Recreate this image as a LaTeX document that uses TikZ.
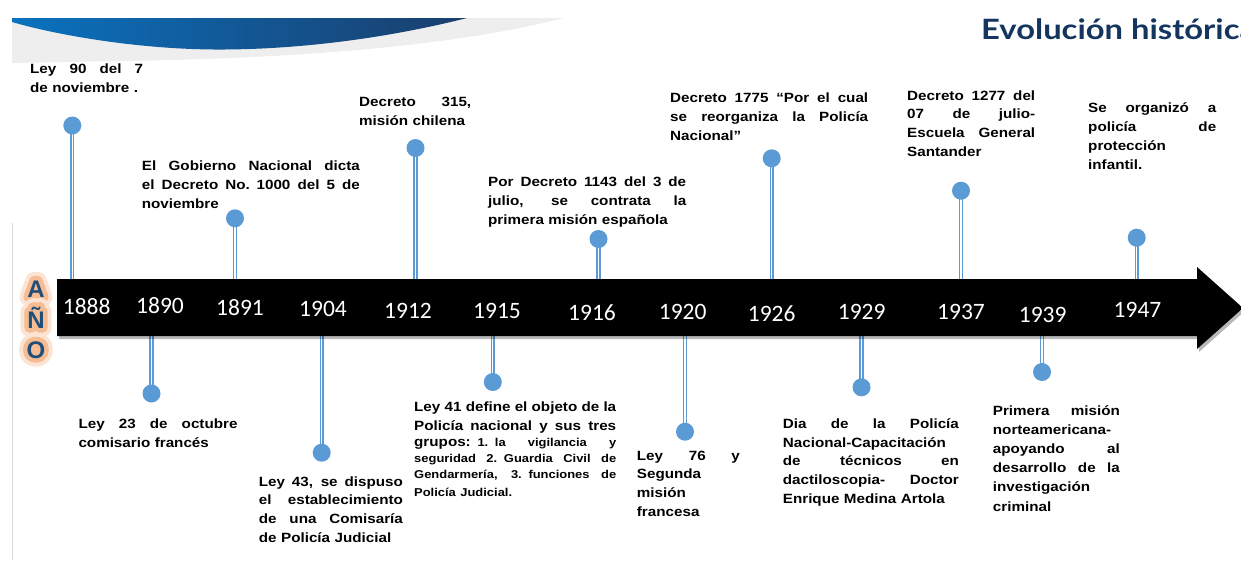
\documentclass[tikz,border=0pt]{standalone}
\usepackage{fontspec}
\setmainfont{Liberation Sans}
\newfontfamily\tf{Liberation Sans}[FakeStretch=1.135]
\newfontfamily\yf{Carlito}
\newfontfamily\ttlf{Lato}[FakeStretch=1.17]
\usetikzlibrary{calc}
\definecolor{dotblue}{HTML}{5B9BD5}
\definecolor{navy}{HTML}{14365E}
\definecolor{anoblue}{HTML}{1F4E79}
\definecolor{glowa}{HTML}{F6BC93}
\definecolor{glowb}{HTML}{FCE4D4}
\definecolor{swl}{HTML}{0A72BF}
\definecolor{swr}{HTML}{1A3E6C}
\definecolor{swgray}{HTML}{EEEEEE}
\newcommand\jl[2]{\leavevmode\hbox to #1{\spaceskip=0.28em plus 3em minus 0.05em\relax #2}}
\newcommand\sm{\fontsize{11.4}{16}\selectfont}
\newcommand\glowL[1]{\rlap{\color{glowb}\special{pdf:literal direct 1 j 1 J 17 w 2 Tr}#1\special{pdf:literal direct 0 Tr 1 w}}\rlap{\color{glowa}\special{pdf:literal direct 1 j 1 J 9 w 2 Tr}#1\special{pdf:literal direct 0 Tr 1 w}}#1}
\pgfdeclareverticalshading{arrowsh}{100bp}{color(0bp)=(black); color(80bp)=(black); color(100bp)=(black!58)}
\begin{document}
\begin{tikzpicture}[x=1pt,y=-1pt,
  txt/.style={anchor=base west, inner sep=0pt, align=left, font={\tf\bfseries\fontsize{13.4}{18.8}\selectfont}},
  yr/.style={anchor=base, inner sep=0pt, text=white, font={\yf\fontsize{23.5}{24}\selectfont}},
  dot/.style={circle, fill=dotblue, minimum size=18pt, inner sep=0pt},
  stem/.style={draw=dotblue, line width=1.4pt, double=white, double distance=1.3pt},
  ano/.style={anchor=base, inner sep=0pt, text=anoblue, font={\bfseries\fontsize{24}{26}\selectfont}}]
\useasboundingbox (0,0) rectangle (1241,560);
% header swoosh
\fill[swgray] (12,18) -- (564,18) .. controls (470,42) and (330,58) .. (120,61) -- (12,63) -- cycle;
\shade[left color=swl, right color=swr] (12,18) -- (467,18) .. controls (380,40) and (290,50) .. (214,49.5) .. controls (140,49) and (60,36) .. (12,22) -- cycle;
\draw[black!15, line width=0.8pt] (12,223) -- (12,560);
% title
\node[anchor=base west, inner sep=0pt, text=navy, font={\ttlf\bfseries\fontsize{28}{30}\selectfont}] (title) at (981,39) {Evolución histórica};
% dot coordinates
\coordinate (bartop) at (0,280);
\coordinate (barbot) at (0,335);
\coordinate (c1888) at (72.3,125.5);
\coordinate (c1891) at (235,218.3);
\coordinate (c1912) at (415.5,148);
\coordinate (c1916) at (598.5,239);
\coordinate (c1926) at (771.7,158.3);
\coordinate (c1937) at (961,190.7);
\coordinate (c1947) at (1136.7,237.7);
\coordinate (c1890) at (151.5,393.5);
\coordinate (c1904) at (321.7,452.7);
\coordinate (c1915) at (492.8,382);
\coordinate (c1920) at (685,431.7);
\coordinate (c1929) at (861.5,387.3);
\coordinate (c1939) at (1042,372);
% stems
\foreach \c in {1888,1891,1912,1916,1926,1937,1947}
  \draw[stem] (c\c) -- (c\c |- bartop);
\foreach \c in {1890,1904,1915,1920,1929,1939}
  \draw[stem] (c\c) -- (c\c |- barbot);
% dots
\foreach \c in {1888,1891,1912,1916,1926,1937,1947,1890,1904,1915,1920,1929,1939}
  \node[dot] (p\c) at (c\c) {};
% arrow
\fill[black, opacity=.28, shift={(2,3)}] (57,279) -- (1197,279) -- (1197,267) -- (1243,308) -- (1197,349) -- (1197,336) -- (57,336) -- cycle;
\shade[shading=arrowsh] (57,279) -- (1197,279) -- (1197,267) -- (1243,308) -- (1197,349) -- (1197,336) -- (57,336) -- cycle;
% years
\node[yr] (y1888) at (86.7,314) {1888};
\node[yr] (y1890) at (160,313) {1890};
\node[yr] (y1891) at (240,315) {1891};
\node[yr] (y1904) at (323,316) {1904};
\node[yr] (y1912) at (408,318) {1912};
\node[yr] (y1915) at (497,318) {1915};
\node[yr] (y1916) at (592,320) {1916};
\node[yr] (y1920) at (682.7,319) {1920};
\node[yr] (y1926) at (771.7,321) {1926};
\node[yr] (y1929) at (861.7,319) {1929};
\node[yr] (y1937) at (961,319) {1937};
\node[yr] (y1939) at (1042.7,322) {1939};
\node[yr] (y1947) at (1137.5,317) {1947};
% AÑO with glow
\node[ano] (la) at (36,297) {\glowL{A}};
\node[ano] (ln) at (36,328) {\glowL{Ñ}};
\node[ano] (lo) at (36,358) {\glowL{O}};
% upper texts
\node[txt, text width=113pt] (t1888) at (30,73.3) {\jl{113pt}{Ley 90 del 7}\\de noviembre .};
\node[txt, text width=218pt] (t1891) at (141.7,170.7) {\jl{218pt}{El Gobierno Nacional dicta}\\\jl{218pt}{el Decreto No. 1000 del 5 de}\\noviembre};
\node[txt, text width=112pt] (t1912) at (359,106.7) {\jl{112pt}{Decreto 315,}\\misión chilena};
\node[txt, text width=198pt] (t1916) at (488,186.7) {\jl{198pt}{Por Decreto 1143 del 3 de}\\\jl{198pt}{julio, se contrata la}\\primera misión española};
\node[txt, text width=198pt] (t1926) at (670,102.7) {\jl{198pt}{Decreto 1775 “Por el cual}\\\jl{198pt}{se reorganiza la Policía}\\Nacional”};
\node[txt, text width=128pt] (t1937) at (907,100) {\jl{128pt}{Decreto 1277 del}\\\jl{128pt}{07 de julio-}\\\jl{128pt}{Escuela General}\\Santander};
\node[txt, text width=128pt] (t1947) at (1088,112.7) {\jl{128pt}{Se organizó a}\\\jl{128pt}{policía de}\\protección\\infantil.};
% lower texts
\node[txt, text width=159pt] (b1890) at (78.3,428.3) {\jl{159pt}{Ley 23 de octubre}\\comisario francés};
\node[txt, text width=144pt] (b1904) at (258.7,486) {\jl{144pt}{Ley 43, se dispuso}\\\jl{144pt}{el establecimiento}\\\jl{144pt}{de una Comisaría}\\de Policía Judicial};
\node[txt, text width=202pt, font={\tf\bfseries\fontsize{13.4}{18.3}\selectfont}] (b1915) at (414,411.7) {\jl{202pt}{Ley 41 define el objeto de la}\\\jl{202pt}{Policía nacional y sus tres}\\[-1.6pt]\jl{202pt}{grupos: \sm 1. la vigilancia y}\\[-2.6pt]\jl{202pt}{\sm seguridad 2. Guardia Civil de}\\[-2.3pt]\jl{202pt}{\sm Gendarmería, 3. funciones de}\\{\sm Policía Judicial.}};
\node[txt, text width=103pt] (b1920) at (636.7,460) {\jl{103pt}{Ley 76 y}\\Segunda\\misión\\francesa};
\node[txt, text width=176pt] (b1929) at (782.7,428.3) {\jl{176pt}{Dia de la Policía}\\Nacional-Capacitación\\\jl{176pt}{de técnicos en}\\\jl{176pt}{dactiloscopia- Doctor}\\Enrique Medina Artola};
\node[txt, text width=127pt, font={\tf\bfseries\fontsize{13.4}{19.2}\selectfont}] (b1939) at (992.7,415) {\jl{127pt}{Primera misión}\\norteamericana-\\\jl{127pt}{apoyando al}\\\jl{127pt}{desarrollo de la}\\investigación\\criminal};
\end{tikzpicture}
\end{document}
